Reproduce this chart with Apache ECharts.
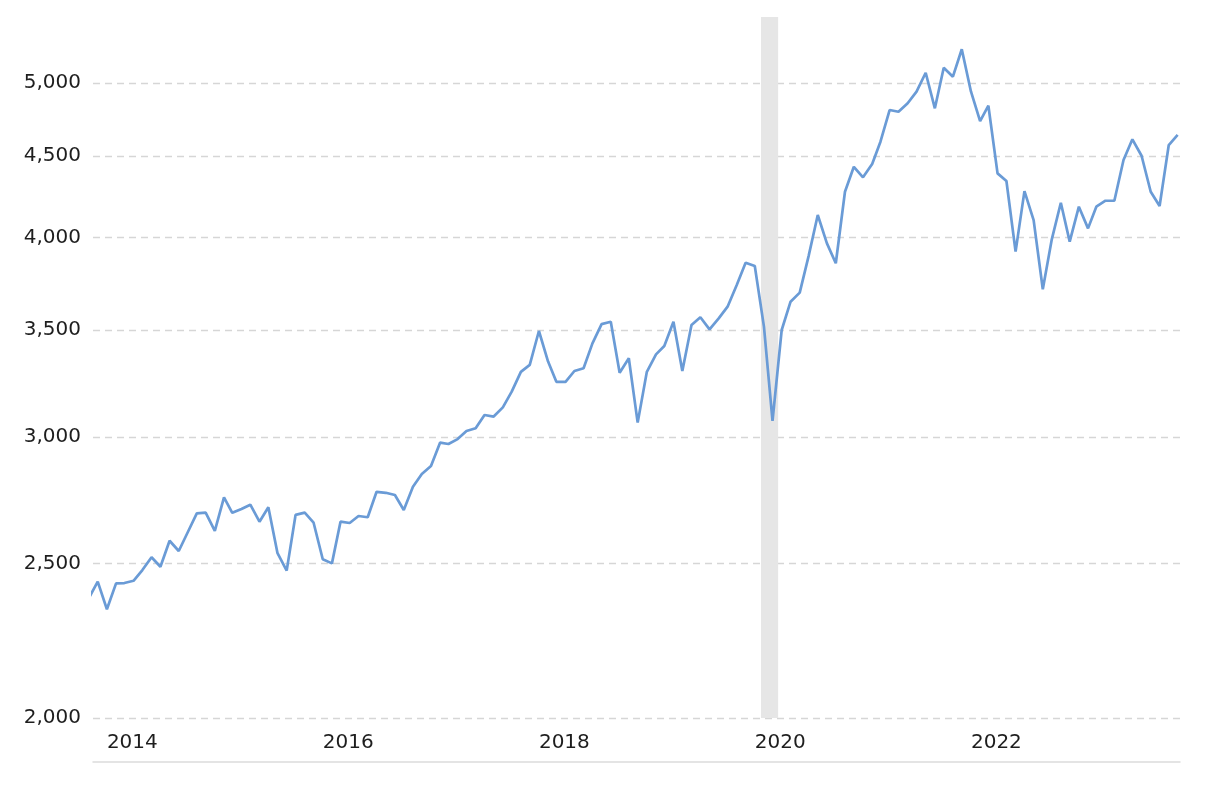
<!DOCTYPE html>
<html><head><meta charset="utf-8">
<script src="https://cdn.jsdelivr.net/npm/echarts@6/dist/echarts.min.js"></script>
<style>html,body{margin:0;padding:0;background:#fff}#c{width:1220px;height:788px}</style>
</head><body><div id="c"></div>
<script>
// Monthly values, starting Nov 2013
const v2013 = [2378, 2435]; // Nov, Dec
const v2014 = [2340, 2429, 2430, 2438, 2476, 2522, 2488, 2583, 2545, 2614, 2687, 2690];
const v2015 = [2620, 2750, 2689, 2704, 2721, 2655, 2711, 2537, 2474, 2681, 2690, 2651];
const v2016 = [2515, 2500, 2655, 2650, 2677, 2672, 2772, 2768, 2759, 2700, 2792, 2844];
const v2017 = [2877, 2976, 2970, 2991, 3026, 3038, 3097, 3090, 3131, 3203, 3296, 3329];
const v2018 = [3496, 3345, 3249, 3249, 3300, 3313, 3434, 3531, 3543, 3292, 3361, 3063];
const v2019 = [3296, 3380, 3421, 3543, 3300, 3526, 3566, 3504, 3560, 3621, 3736, 3858];
const v2020 = [3840, 3518, 3071, 3501, 3647, 3695, 3895, 4133, 3967, 3855, 4274, 4431];
const v2021 = [4364, 4449, 4594, 4809, 4797, 4856, 4938, 5075, 4821, 5112, 5046, 5250];
const v2022 = [4940, 4733, 4839, 4389, 4341, 3920, 4278, 4103, 3713, 3987, 4207, 3977];
const v2023 = [4183, 4054, 4183, 4219, 4219, 4474, 4610, 4502, 4274, 4187, 4572, 4639];
const firstMonth = [2013, 11];
const yTicks = [2000, 2500, 3000, 3500, 4000, 4500, 5000];
const xLabelYears = [2014, 2016, 2018, 2020, 2022];
const recession = ['2020-01-22', '2020-03-20'];

const values = [].concat(v2013, v2014, v2015, v2016, v2017, v2018, v2019, v2020, v2021, v2022, v2023);
const dates = values.map((_, i) => {
  const m0 = firstMonth[1] - 1 + i;
  const y = firstMonth[0] + Math.floor(m0 / 12);
  const m = (m0 % 12) + 1;
  return y + '-' + (m < 10 ? '0' + m : m) + '-01';
});
const seriesData = dates.map((d, i) => [d, values[i]]);

const YEAR = 365 * 24 * 3600 * 1000;
const chart = echarts.init(document.getElementById('c'));
const font = 'DejaVu Sans, Verdana, sans-serif';
chart.setOption({
  animation: false,
  backgroundColor: '#fff',
  grid: { left: 93, right: 40, top: 17, bottom: 70, containLabel: false },
  xAxis: {
    type: 'time',
    min: +new Date(2013, 10, 15),
    max: +new Date(2023, 11, 9),
    minInterval: YEAR,
    maxInterval: YEAR * 1.01,
    offset: 44,
    axisLine: { show: true, lineStyle: { color: '#dcdcdc', width: 1.5 } },
    axisTick: { show: false },
    splitLine: { show: false },
    axisLabel: {
      inside: true,
      margin: 9,
      align: 'left',
      showMinLabel: false,
      showMaxLabel: false,
      hideOverlap: false,
      formatter: function (v) {
        const d = new Date(v);
        if (d.getMonth() === 0 && d.getDate() === 1 && xLabelYears.indexOf(d.getFullYear()) >= 0) {
          return String(d.getFullYear());
        }
        return '';
      },
      color: '#1e1e1e',
      fontFamily: font,
      fontSize: 20
    }
  },
  yAxis: {
    type: 'log',
    logBase: 10,
    min: 2000,
    max: 5500,
    axisLine: { show: false },
    axisTick: { show: false, customValues: yTicks },
    axisLabel: {
      customValues: yTicks,
      margin: 12,
      padding: [4, 0, 0, 0],
      color: '#1e1e1e',
      fontFamily: font,
      fontSize: 20,
      formatter: v => Math.round(v).toLocaleString('en-US')
    },
    splitLine: { show: true, lineStyle: { color: '#d6d6d6', width: 1.3, type: [7, 5] } }
  },
  series: [{
    type: 'line',
    data: seriesData,
    showSymbol: false,
    lineStyle: { color: '#6a9bd6', width: 2.7 },
    itemStyle: { color: '#6a9bd6' },
    markArea: {
      silent: true,
      itemStyle: { color: '#e6e6e6' },
      data: [[{ xAxis: recession[0] }, { xAxis: recession[1] }]]
    },
    z: 3
  }]
});
</script>
</body></html>
